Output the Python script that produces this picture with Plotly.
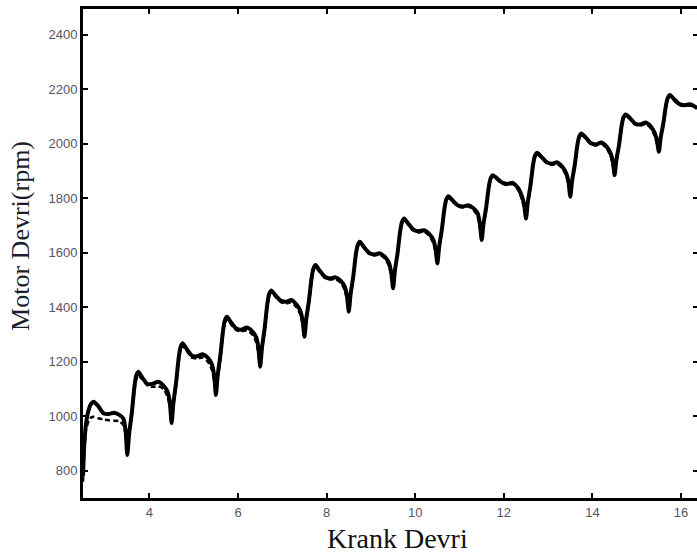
import plotly.graph_objects as go

# Crank revolutions (x) shared by both series
crank = [
    2.50, 2.53, 2.57, 2.63, 2.68, 2.74, 2.84, 2.96, 3.08, 3.20, 3.32, 3.41, 3.46, 3.50,
    3.54, 3.60, 3.66, 3.70, 3.75, 3.84, 3.96, 4.08, 4.20, 4.32, 4.41, 4.46, 4.50,
    4.54, 4.60, 4.66, 4.70, 4.75, 4.84, 4.96, 5.08, 5.20, 5.32, 5.41, 5.46, 5.50,
    5.54, 5.60, 5.66, 5.70, 5.75, 5.84, 5.96, 6.08, 6.20, 6.32, 6.41, 6.46, 6.50,
    6.54, 6.60, 6.66, 6.70, 6.75, 6.84, 6.96, 7.08, 7.20, 7.32, 7.41, 7.46, 7.50,
    7.54, 7.60, 7.66, 7.70, 7.75, 7.84, 7.96, 8.08, 8.20, 8.32, 8.41, 8.46, 8.50,
    8.54, 8.60, 8.66, 8.70, 8.75, 8.84, 8.96, 9.08, 9.20, 9.32, 9.41, 9.46, 9.50,
    9.54, 9.60, 9.66, 9.70, 9.75, 9.84, 9.96, 10.08, 10.20, 10.32, 10.41, 10.46, 10.50,
    10.54, 10.60, 10.66, 10.70, 10.75, 10.84, 10.96, 11.08, 11.20, 11.32, 11.41, 11.46, 11.50,
    11.54, 11.60, 11.66, 11.70, 11.75, 11.84, 11.96, 12.08, 12.20, 12.32, 12.41, 12.46, 12.50,
    12.54, 12.60, 12.66, 12.70, 12.75, 12.84, 12.96, 13.08, 13.20, 13.32, 13.41, 13.46, 13.50,
    13.54, 13.60, 13.66, 13.70, 13.75, 13.84, 13.96, 14.08, 14.20, 14.32, 14.41, 14.46, 14.50,
    14.54, 14.60, 14.66, 14.70, 14.75, 14.84, 14.96, 15.08, 15.20, 15.32, 15.41, 15.46, 15.50,
    15.54, 15.60, 15.66, 15.70, 15.75, 15.84, 15.96, 16.08, 16.20, 16.30, 16.36,
]

# Solid line (rpm)
rpm_solid = [
    780, 900, 975, 1025, 1045, 1053, 1038, 1011, 1008, 1013, 1005, 992, 950, 858,
    934, 1010, 1108, 1148, 1163, 1142, 1118, 1120, 1127, 1112, 1090, 1050, 975,
    1048, 1122, 1215, 1253, 1268, 1247, 1222, 1220, 1228, 1214, 1190, 1150, 1078,
    1150, 1222, 1313, 1351, 1365, 1345, 1322, 1318, 1326, 1312, 1290, 1250, 1182,
    1252, 1322, 1412, 1448, 1462, 1445, 1425, 1420, 1427, 1410, 1385, 1348, 1292,
    1358, 1424, 1508, 1542, 1555, 1535, 1512, 1506, 1510, 1497, 1475, 1440, 1384,
    1448, 1512, 1595, 1628, 1641, 1622, 1600, 1594, 1598, 1584, 1562, 1525, 1470,
    1534, 1598, 1680, 1713, 1726, 1708, 1685, 1679, 1683, 1669, 1647, 1612, 1561,
    1623, 1685, 1764, 1796, 1808, 1793, 1775, 1770, 1775, 1763, 1745, 1705, 1647,
    1706, 1766, 1842, 1873, 1885, 1874, 1858, 1853, 1857, 1838, 1806, 1775, 1726,
    1786, 1846, 1924, 1955, 1967, 1954, 1934, 1927, 1932, 1916, 1891, 1860, 1806,
    1864, 1922, 1996, 2026, 2038, 2025, 2003, 1998, 2005, 1990, 1965, 1935, 1885,
    1941, 1996, 2068, 2097, 2108, 2096, 2075, 2071, 2078, 2063, 2038, 2008, 1971,
    2023, 2075, 2142, 2169, 2179, 2164, 2146, 2142, 2145, 2138, 2132,
]

# Dashed line (rpm)
rpm_dashed = [
    760, 870, 950, 985, 995, 998, 993, 988, 985, 984, 982, 968, 935, 880,
    930, 1000, 1090, 1135, 1150, 1135, 1112, 1108, 1110, 1100, 1070, 1035, 985,
    1040, 1110, 1200, 1242, 1258, 1240, 1215, 1212, 1216, 1200, 1170, 1130, 1090,
    1140, 1210, 1300, 1342, 1356, 1338, 1316, 1312, 1316, 1300, 1272, 1230, 1190,
    1245, 1312, 1400, 1440, 1455, 1440, 1420, 1414, 1418, 1400, 1372, 1335, 1300,
    1350, 1415, 1498, 1535, 1548, 1530, 1508, 1502, 1504, 1490, 1462, 1425, 1392,
    1440, 1505, 1588, 1622, 1636, 1618, 1596, 1590, 1593, 1578, 1550, 1512, 1478,
    1528, 1592, 1674, 1708, 1721, 1704, 1681, 1675, 1678, 1662, 1635, 1600, 1568,
    1616, 1678, 1758, 1791, 1803, 1789, 1771, 1766, 1770, 1756, 1733, 1692, 1655,
    1700, 1760, 1836, 1868, 1880, 1870, 1854, 1849, 1852, 1832, 1795, 1762, 1732,
    1780, 1840, 1918, 1950, 1962, 1950, 1930, 1923, 1927, 1910, 1880, 1848, 1812,
    1858, 1916, 1990, 2021, 2033, 2021, 2000, 1994, 2000, 1984, 1955, 1922, 1890,
    1935, 1990, 2062, 2092, 2103, 2092, 2071, 2067, 2073, 2057, 2028, 1996, 1976,
    2018, 2070, 2136, 2164, 2174, 2160, 2143, 2139, 2141, 2135, 2129,
]

x_ticks = [4, 6, 8, 10, 12, 14, 16]
y_ticks = [800, 1000, 1200, 1400, 1600, 1800, 2000, 2200, 2400]
x_range = [2.5, 16.36]
y_range = [700, 2495]

fig = go.Figure()
fig.add_trace(go.Scatter(x=crank, y=rpm_dashed, mode="lines",
                         line=dict(color="black", width=2.5, dash="5px,3px",
                                   shape="spline", smoothing=0.6),
                         showlegend=False, hoverinfo="skip"))
fig.add_trace(go.Scatter(x=crank, y=rpm_solid, mode="lines",
                         line=dict(color="black", width=4, shape="spline", smoothing=0.6),
                         showlegend=False, hoverinfo="skip"))
fig.add_trace(go.Scatter(x=[], y=[], yaxis="y2", showlegend=False, hoverinfo="skip"))

tick_font = dict(family="Liberation Sans, Arial, sans-serif", size=13, color="#555560")

fig.update_layout(
    width=697, height=556,
    margin=dict(l=83, r=0, t=9, b=58),
    paper_bgcolor="white", plot_bgcolor="white",
    xaxis=dict(range=x_range, tickvals=x_ticks, ticks="inside", ticklen=5, tickwidth=2,
               tickcolor="black", showline=True, linecolor="black", linewidth=3,
               mirror="ticks", showgrid=False, zeroline=False, tickfont=tick_font),
    yaxis=dict(range=y_range, tickvals=y_ticks, ticks="inside", ticklen=5, tickwidth=2,
               tickcolor="black", showline=True, linecolor="black", linewidth=3,
               mirror=False, showgrid=False, zeroline=False, tickfont=tick_font),
    yaxis2=dict(range=y_range, tickvals=y_ticks, ticks="inside", ticklen=4, tickwidth=2,
                tickcolor="black", overlaying="y", side="right", showline=False,
                showticklabels=False, showgrid=False, zeroline=False),
    annotations=[
        dict(text="Motor Devri(rpm)", xref="paper", yref="paper",
             x=-0.101, y=0.536, showarrow=False, textangle=-90,
             xanchor="center", yanchor="middle",
             font=dict(family="Liberation Serif, Times New Roman, serif", size=26, color="#1c1c2c")),
        dict(text="Krank Devri", xref="paper", yref="paper",
             x=0.513, y=-0.0838, showarrow=False,
             xanchor="center", yanchor="middle",
             font=dict(family="Liberation Serif, Times New Roman, serif", size=28, color="#111111")),
    ],
)

fig.write_html("out.html")
